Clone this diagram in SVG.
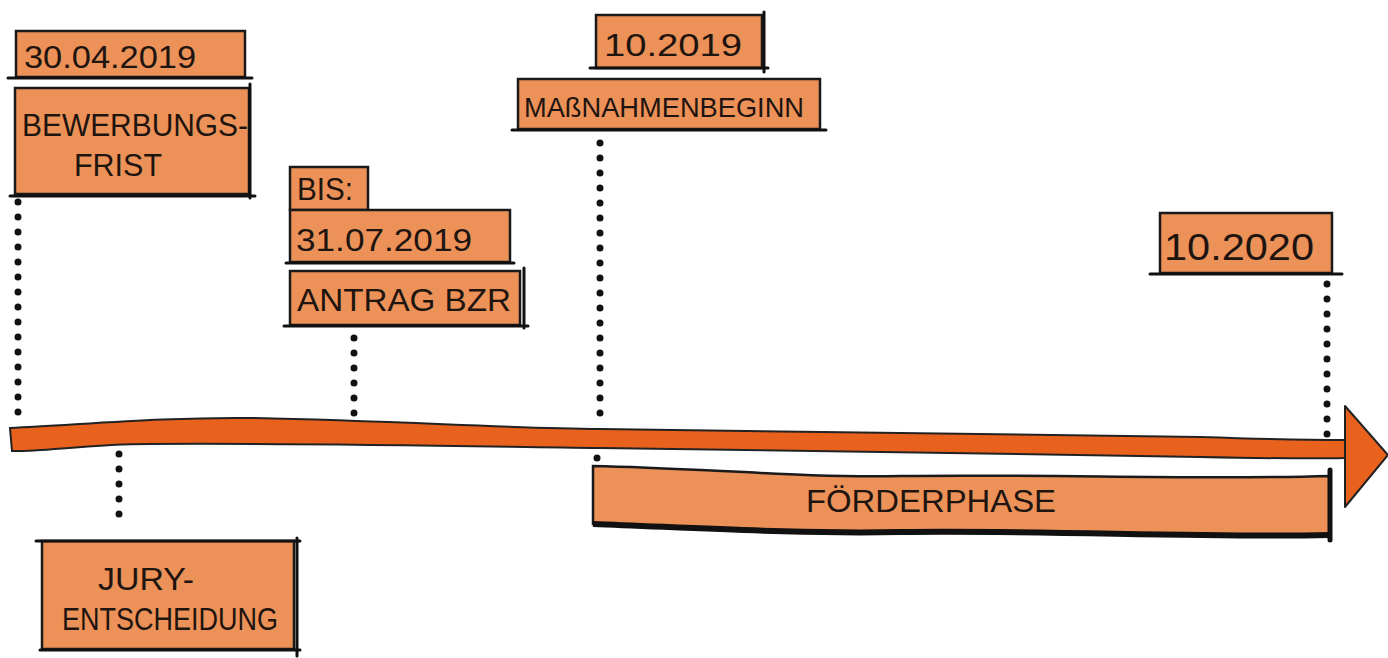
<svg xmlns="http://www.w3.org/2000/svg" width="1388" height="658" viewBox="0 0 1388 658">
<style>
.box{fill:#EC9157;stroke:#1a1a1a;stroke-width:2.5}
.under{stroke:#111;stroke-width:3;fill:none;stroke-linecap:round}
.t{font-family:"Liberation Sans",Arial,sans-serif;font-size:32px;fill:#1e1410}
.dots{stroke:#111;stroke-width:7;stroke-linecap:round;stroke-dasharray:0 15;fill:none}
</style>
<rect width="1388" height="658" fill="#fff"/>
<g id="connectors">
<path class="dots" d="M18 202 V422"/>
<path class="dots" d="M354 338 V416"/>
<path class="dots" d="M600 143 V420"/>
<path class="dots" d="M1327 284 V440"/>
<path class="dots" d="M119 454 V522"/>
<path class="dots" d="M597 458 V462"/>
</g>
<g id="timeline">
<path d="M10 428 C90 424 170 417 250 418 C400 421 500 428 600 429 C800 431 1000 435 1200 437 C1260 439 1310 440 1345 440 L1345 458 C1300 459 1250 458 1200 457 C1000 454 800 450 600 448 C450 446 300 443 150 444 C90 444 40 452 12 451 Z" fill="#E8621E" stroke="#222" stroke-width="2"/>
<path d="M1345 406 L1388 455 L1345 507 Z" fill="#E8621E" stroke="#222" stroke-width="2" stroke-linejoin="round"/>
</g>
<g id="n1">
<rect class="box" x="16" y="31" width="229" height="46"/>
<path class="under" d="M8 78 H252"/>
<text class="t" x="24" y="68" textLength="172" lengthAdjust="spacingAndGlyphs">30.04.2019</text>
</g>
<g id="n2">
<rect class="box" x="15" y="88" width="234" height="106"/>
<path class="under" d="M10 196 H255 M250 84 V198"/>
<text class="t" x="22" y="136" textLength="226" lengthAdjust="spacingAndGlyphs">BEWERBUNGS-</text>
<text class="t" x="74" y="176" textLength="88" lengthAdjust="spacingAndGlyphs">FRIST</text>
</g>
<g id="n3">
<rect class="box" x="290" y="167" width="78" height="43"/>
<text class="t" x="297" y="200" textLength="56" lengthAdjust="spacingAndGlyphs">BIS:</text>
</g>
<g id="n4">
<rect class="box" x="290" y="210" width="220" height="52"/>
<path class="under" d="M286 263 H514"/>
<text class="t" x="296" y="251" textLength="176" lengthAdjust="spacingAndGlyphs">31.07.2019</text>
</g>
<g id="n5">
<rect class="box" x="290" y="271" width="230" height="54"/>
<path class="under" d="M284 326 H528 M524 268 V328"/>
<text class="t" x="297" y="311" textLength="214" lengthAdjust="spacingAndGlyphs">ANTRAG BZR</text>
</g>
<g id="n6">
<rect class="box" x="596" y="15" width="166" height="53"/>
<path class="under" d="M590 68 H768 M764 12 V72"/>
<text class="t" x="604" y="56" textLength="138" lengthAdjust="spacingAndGlyphs">10.2019</text>
</g>
<g id="n7">
<rect class="box" x="518" y="79" width="302" height="50"/>
<path class="under" d="M512 130 H826"/>
<text class="t" x="524" y="117" textLength="280" lengthAdjust="spacingAndGlyphs" style="font-size:28px">MAßNAHMENBEGINN</text>
</g>
<g id="n8">
<rect class="box" x="1160" y="213" width="172" height="60"/>
<path class="under" d="M1150 274 H1342"/>
<text class="t" x="1164" y="260" textLength="150" lengthAdjust="spacingAndGlyphs" style="font-size:36px">10.2020</text>
</g>
<g id="n9">
<path d="M593 466 C700 468 800 478 900 476 C1050 474 1200 480 1330 476 L1330 535 C1200 538 1050 530 900 532 C800 534 700 528 593 524 Z" class="box"/>
<path d="M593 524 C700 528 800 534 900 532 C1050 530 1200 538 1330 535" stroke="#111" stroke-width="6" fill="none"/>
<path class="under" d="M1330 470 V540" style="stroke-width:5"/>
<text class="t" x="806" y="512" textLength="250" lengthAdjust="spacingAndGlyphs">FÖRDERPHASE</text>
</g>
<g id="n10">
<rect class="box" x="42" y="541" width="252" height="108"/>
<path class="under" d="M36 541 H300 M297 538 V656 M40 650 H300"/>
<text class="t" x="98" y="590" textLength="96" lengthAdjust="spacingAndGlyphs">JURY-</text>
<text class="t" x="62" y="630" textLength="216" lengthAdjust="spacingAndGlyphs">ENTSCHEIDUNG</text>
</g>
</svg>
